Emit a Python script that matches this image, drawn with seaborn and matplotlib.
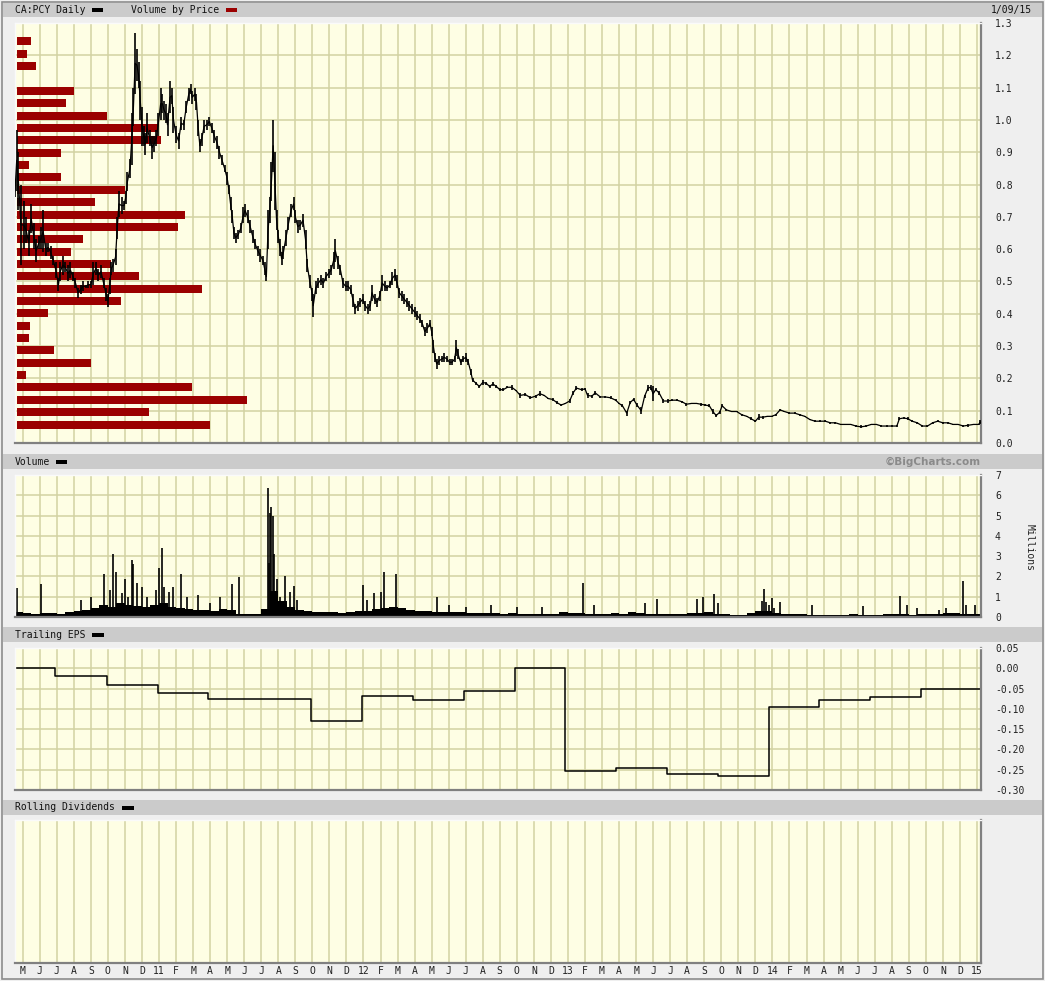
import numpy as np
import pandas as pd
import seaborn as sns
import matplotlib.pyplot as plt
from matplotlib.patches import Rectangle

W, H = 1045, 981

# x axis: months counted from May 2010 (0 = May 1 2010)
month_labels = ['M', 'J', 'J', 'A', 'S', 'O', 'N', 'D',
                '11', 'F', 'M', 'A', 'M', 'J', 'J', 'A', 'S', 'O', 'N', 'D',
                '12', 'F', 'M', 'A', 'M', 'J', 'J', 'A', 'S', 'O', 'N', 'D',
                '13', 'F', 'M', 'A', 'M', 'J', 'J', 'A', 'S', 'O', 'N', 'D',
                '14', 'F', 'M', 'A', 'M', 'J', 'J', 'A', 'S', 'O', 'N', 'D',
                '15']
x_start, x_end = -0.45, 56.24

# daily price, sampled (month, low, high)
price_month = [-0.45, -0.35, -0.25, -0.1, 0.05, 0.2, 0.35, 0.5, 0.65, 0.8, 0.95, 1.1, 1.2, 1.35, 1.5, 1.65, 1.8, 1.95,
               2.1, 2.2, 2.35, 2.5, 2.65, 2.8, 2.95, 3.1, 3.25, 3.4, 3.55, 3.7, 3.85, 4.0, 4.15, 4.3, 4.45, 4.6, 4.75,
               4.9, 5.0, 5.1, 5.2, 5.3, 5.45, 5.55, 5.65, 5.8, 5.95, 6.05, 6.15, 6.3, 6.4, 6.5, 6.6, 6.7, 6.8, 6.9,
               7.0, 7.1, 7.2, 7.3, 7.45, 7.6, 7.7, 7.85, 7.95, 8.1, 8.2, 8.3, 8.4, 8.5, 8.65, 8.75, 8.85, 9.0, 9.15,
               9.3, 9.45, 9.6, 9.75, 9.85, 9.95, 10.1, 10.2, 10.3, 10.4, 10.5, 10.65, 10.8, 10.95, 11.1, 11.25, 11.4,
               11.55, 11.7, 11.85, 12.0, 12.1, 12.2, 12.3, 12.4, 12.5, 12.65, 12.8, 12.95, 13.05, 13.2, 13.35, 13.5,
               13.65, 13.8, 13.95, 14.1, 14.2, 14.3, 14.4, 14.5, 14.6, 14.7, 14.8, 14.9, 15.0, 15.1, 15.2, 15.3,
               15.45, 15.6, 15.75, 15.9, 16.0, 16.15, 16.3, 16.45, 16.6, 16.7, 16.85, 17.0, 17.05, 17.2, 17.35, 17.5,
               17.65, 17.8, 17.95, 18.1, 18.25, 18.35, 18.5, 18.65, 18.8, 18.95, 19.1, 19.25, 19.4, 19.5, 19.65, 19.8,
               19.95, 20.1, 20.25, 20.4, 20.5, 20.65, 20.8, 20.95, 21.1, 21.25, 21.4, 21.55, 21.7, 21.85, 21.95, 22.1,
               22.25, 22.4, 22.55, 22.7, 22.85, 23.0, 23.15, 23.3, 23.45, 23.6, 23.75, 23.9, 24.0, 24.1, 24.2, 24.3,
               24.45, 24.6, 24.75, 24.9, 25.05, 25.2, 25.35, 25.45, 25.55, 25.7, 25.85, 26.0, 26.15, 26.3, 26.4, 26.6,
               26.8, 27.0, 27.2, 27.4, 27.6, 27.8, 28.0, 28.2, 28.45, 28.7, 28.95, 29.2, 29.5, 29.8, 30.1, 30.35,
               30.6, 30.85, 31.1, 31.35, 31.6, 31.85, 32.1, 32.3, 32.5, 32.8, 33.0, 33.15, 33.4, 33.6, 33.9, 34.2,
               34.5, 34.8, 35.0, 35.2, 35.45, 35.65, 35.85, 36.05, 36.3, 36.5, 36.7, 36.85, 37.0, 37.15, 37.35, 37.6,
               37.85, 38.1, 38.4, 38.7, 38.95, 39.25, 39.55, 39.8, 40.05, 40.3, 40.5, 40.7, 40.9, 41.05, 41.3, 41.6,
               41.9, 42.2, 42.5, 42.75, 43.0, 43.2, 43.45, 43.7, 43.95, 44.2, 44.45, 44.7, 45.0, 45.3, 45.6, 45.9,
               46.2, 46.5, 46.8, 47.1, 47.4, 47.7, 48.0, 48.3, 48.6, 48.9, 49.2, 49.5, 49.8, 50.1, 50.4, 50.7, 51.0,
               51.3, 51.45, 51.7, 51.95, 52.2, 52.5, 52.8, 53.1, 53.4, 53.7, 54.0, 54.3, 54.6, 54.9, 55.2, 55.5, 55.8,
               56.1, 56.2]
price_low = [0.76, 0.78, 0.72, 0.55, 0.60, 0.62, 0.58, 0.65, 0.60, 0.56, 0.60, 0.60, 0.59, 0.58, 0.59, 0.57, 0.55, 0.51,
             0.47, 0.50, 0.52, 0.53, 0.50, 0.51, 0.50, 0.48, 0.45, 0.46, 0.47, 0.48, 0.48, 0.48, 0.49, 0.52, 0.50, 0.51,
             0.48, 0.44, 0.42, 0.46, 0.52, 0.53, 0.55, 0.63, 0.70, 0.71, 0.72, 0.74, 0.78, 0.82, 0.86, 0.98, 1.08, 1.12,
             1.10, 1.00, 0.92, 0.92, 0.89, 0.93, 0.92, 0.88, 0.90, 0.92, 0.95, 1.00, 1.02, 1.00, 0.99, 0.95, 1.02, 1.05,
             0.96, 0.93, 0.91, 0.97, 0.97, 1.02, 1.06, 1.08, 1.05, 1.06, 1.03, 0.95, 0.90, 0.92, 0.96, 0.97, 0.98, 0.96,
             0.93, 0.91, 0.88, 0.86, 0.84, 0.80, 0.77, 0.72, 0.68, 0.63, 0.62, 0.63, 0.65, 0.68, 0.70, 0.68, 0.65, 0.62,
             0.60, 0.58, 0.56, 0.55, 0.52, 0.50, 0.60, 0.68, 0.75, 0.84, 0.72, 0.66, 0.62, 0.58, 0.55, 0.57, 0.61, 0.66,
             0.70, 0.72, 0.68, 0.65, 0.66, 0.67, 0.60, 0.53, 0.48, 0.44, 0.39, 0.46, 0.48, 0.49, 0.48, 0.50, 0.51, 0.52,
             0.54, 0.56, 0.54, 0.52, 0.48, 0.47, 0.47, 0.46, 0.42, 0.40, 0.41, 0.42, 0.43, 0.41, 0.40, 0.41, 0.44, 0.43,
             0.42, 0.44, 0.47, 0.47, 0.47, 0.48, 0.49, 0.50, 0.48, 0.45, 0.44, 0.43, 0.42, 0.41, 0.40, 0.39, 0.38, 0.37,
             0.36, 0.33, 0.34, 0.36, 0.33, 0.28, 0.25, 0.23, 0.24, 0.25, 0.25, 0.25, 0.24, 0.24, 0.25, 0.27, 0.26, 0.24,
             0.25, 0.25, 0.24, 0.21, 0.19, 0.18, 0.17, 0.18, 0.18, 0.17, 0.175, 0.17, 0.16, 0.16, 0.17, 0.165, 0.16,
             0.14, 0.145, 0.135, 0.14, 0.145, 0.145, 0.135, 0.13, 0.12, 0.115, 0.12, 0.125, 0.15, 0.165, 0.16, 0.165,
             0.14, 0.14, 0.15, 0.14, 0.14, 0.135, 0.13, 0.12, 0.11, 0.085, 0.12, 0.13, 0.11, 0.09, 0.14, 0.16, 0.165,
             0.13, 0.16, 0.15, 0.125, 0.125, 0.13, 0.13, 0.125, 0.115, 0.12, 0.12, 0.115, 0.115, 0.11, 0.09, 0.08, 0.09,
             0.11, 0.10, 0.095, 0.095, 0.085, 0.08, 0.07, 0.065, 0.07, 0.075, 0.08, 0.08, 0.085, 0.10, 0.095, 0.09, 0.09,
             0.085, 0.08, 0.07, 0.065, 0.065, 0.065, 0.06, 0.06, 0.055, 0.055, 0.055, 0.05, 0.045, 0.05, 0.055, 0.055,
             0.05, 0.05, 0.05, 0.05, 0.07, 0.075, 0.07, 0.065, 0.06, 0.05, 0.05, 0.06, 0.065, 0.06, 0.06, 0.055, 0.055,
             0.05, 0.05, 0.055, 0.055, 0.06]
price_high = [0.80, 0.97, 0.90, 0.80, 0.75, 0.70, 0.66, 0.74, 0.68, 0.63, 0.64, 0.67, 0.72, 0.62, 0.62, 0.61, 0.58, 0.56,
              0.51, 0.56, 0.58, 0.56, 0.55, 0.56, 0.53, 0.51, 0.48, 0.49, 0.50, 0.49, 0.50, 0.50, 0.56, 0.56, 0.54, 0.55,
              0.51, 0.48, 0.46, 0.51, 0.56, 0.57, 0.60, 0.70, 0.78, 0.76, 0.75, 0.78, 0.84, 0.88, 1.02, 1.10, 1.27, 1.22,
              1.18, 1.12, 1.04, 0.98, 0.96, 1.02, 0.97, 0.95, 0.95, 0.97, 1.02, 1.10, 1.08, 1.06, 1.05, 1.02, 1.12, 1.10,
              1.04, 0.98, 0.96, 1.01, 1.00, 1.06, 1.10, 1.11, 1.09, 1.10, 1.08, 1.00, 0.94, 0.96, 1.00, 1.00, 1.01, 0.99,
              0.97, 0.95, 0.92, 0.89, 0.86, 0.84, 0.80, 0.76, 0.72, 0.67, 0.65, 0.66, 0.68, 0.73, 0.74, 0.72, 0.69, 0.66,
              0.63, 0.61, 0.60, 0.58, 0.56, 0.53, 0.72, 0.76, 0.87, 1.00, 0.90, 0.72, 0.66, 0.63, 0.59, 0.61, 0.66, 0.70,
              0.74, 0.76, 0.72, 0.69, 0.69, 0.71, 0.66, 0.57, 0.52, 0.48, 0.46, 0.50, 0.51, 0.52, 0.51, 0.53, 0.54, 0.55,
              0.59, 0.63, 0.58, 0.55, 0.51, 0.50, 0.50, 0.49, 0.46, 0.43, 0.44, 0.45, 0.46, 0.44, 0.43, 0.44, 0.49, 0.46,
              0.45, 0.47, 0.52, 0.50, 0.49, 0.50, 0.53, 0.54, 0.52, 0.48, 0.47, 0.46, 0.45, 0.44, 0.43, 0.42, 0.41, 0.40,
              0.38, 0.36, 0.37, 0.38, 0.36, 0.32, 0.28, 0.26, 0.27, 0.27, 0.28, 0.27, 0.26, 0.26, 0.27, 0.32, 0.29, 0.26,
              0.27, 0.28, 0.26, 0.23, 0.20, 0.19, 0.18, 0.195, 0.19, 0.18, 0.19, 0.18, 0.17, 0.17, 0.175, 0.18, 0.165,
              0.155, 0.155, 0.145, 0.15, 0.16, 0.15, 0.14, 0.14, 0.13, 0.12, 0.125, 0.135, 0.16, 0.175, 0.17, 0.17,
              0.155, 0.15, 0.16, 0.145, 0.145, 0.145, 0.135, 0.125, 0.12, 0.10, 0.13, 0.14, 0.125, 0.11, 0.15, 0.18,
              0.18, 0.175, 0.17, 0.16, 0.135, 0.135, 0.135, 0.135, 0.13, 0.125, 0.125, 0.125, 0.125, 0.12, 0.12, 0.105,
              0.09, 0.10, 0.12, 0.105, 0.10, 0.10, 0.09, 0.085, 0.08, 0.07, 0.09, 0.085, 0.085, 0.085, 0.09, 0.105, 0.10,
              0.095, 0.095, 0.09, 0.085, 0.075, 0.07, 0.07, 0.07, 0.065, 0.065, 0.06, 0.06, 0.06, 0.055, 0.055, 0.055,
              0.06, 0.06, 0.055, 0.055, 0.055, 0.055, 0.08, 0.08, 0.08, 0.07, 0.065, 0.055, 0.055, 0.065, 0.07, 0.065,
              0.065, 0.06, 0.06, 0.055, 0.06, 0.06, 0.06, 0.07]

# volume by price (relative volume per price bin)
vbp_price = [0.057, 0.096, 0.134, 0.172, 0.210, 0.248, 0.287, 0.325, 0.363, 0.401, 0.439, 0.478, 0.516, 0.554,
             0.592, 0.631, 0.669, 0.707, 0.745, 0.784, 0.822, 0.860, 0.898, 0.937, 0.975, 1.013, 1.052, 1.090,
             1.128, 1.166, 1.205, 1.243]
vbp_volume = [193, 132, 230, 175, 9, 74, 37, 12, 13, 31, 104, 185, 122, 94,
              54, 66, 161, 168, 78, 108, 44, 12, 44, 144, 141, 90, 49, 57,
              0, 19, 10, 14]

# daily volume (millions): half-month base level plus the tall days
vol_base = [0.25, 0.2, 0.15, 0.2, 0.2, 0.15, 0.25, 0.3, 0.35, 0.45, 0.6, 0.5, 0.7, 0.6, 0.55, 0.5,
            0.6, 0.7, 0.5, 0.45, 0.4, 0.35, 0.35, 0.3, 0.4, 0.35, 0.15, 0.15, 0.15, 0.4, 1.3, 0.8,
            0.5, 0.35, 0.3, 0.25, 0.25, 0.25, 0.2, 0.25, 0.3, 0.3, 0.4, 0.45, 0.5, 0.45, 0.35, 0.3,
            0.3, 0.25, 0.25, 0.25, 0.25, 0.2, 0.2, 0.2, 0.2, 0.15, 0.2, 0.15, 0.15, 0.15, 0.15, 0.15,
            0.25, 0.2, 0.2, 0.15, 0.15, 0.15, 0.2, 0.15, 0.25, 0.2, 0.15, 0.15, 0.15, 0.15, 0.15, 0.2,
            0.2, 0.25, 0.15, 0.15, 0.1, 0.1, 0.2, 0.3, 0.3, 0.2, 0.15, 0.15, 0.15, 0.1, 0.1, 0.1,
            0.1, 0.1, 0.15, 0.1, 0.1, 0.1, 0.15, 0.15, 0.15, 0.1, 0.15, 0.15, 0.15, 0.2, 0.2, 0.15,
            0.15, 0.15]
vol_spike_month = [-0.35, 1.1, 3.4, 4.0, 4.8, 5.1, 5.3, 5.5, 5.8, 6.0, 6.2, 6.4, 6.5, 6.7, 7.0, 7.3, 7.8, 8.0,
                   8.2, 8.3, 8.6, 8.8, 9.3, 9.65, 10.3, 11.0, 11.6, 12.3, 12.7, 14.05, 14.4, 14.45, 14.5, 14.6,
                   14.7, 14.75, 14.9, 15.1, 15.4, 15.7, 15.9, 16.1, 20.0, 20.2, 20.6, 21.0, 21.2, 21.9, 24.3,
                   25.0, 26.0, 27.5, 29.0, 30.5, 32.9, 33.5, 36.5, 37.2, 39.6, 39.9, 40.6, 40.8, 43.4, 43.5, 43.6,
                   43.8, 44.0, 44.1, 44.45, 46.3, 49.3, 51.5, 51.9, 52.5, 53.8, 54.2, 55.2, 55.35, 55.9]
vol_spike_value = [1.43, 1.64, 0.85, 1.0, 2.1, 1.35, 3.1, 2.2, 1.2, 1.85, 1.0, 2.8, 2.6, 1.7, 1.5, 1.0, 1.35, 2.42,
                   3.42, 1.5, 1.25, 1.5, 2.1, 1.0, 1.1, 0.7, 1.0, 1.65, 1.95, 0.35, 6.35, 2.65, 5.15, 5.4,
                   5.0, 3.1, 1.85, 1.0, 2.0, 1.25, 1.55, 0.85, 1.6, 0.85, 1.2, 1.25, 2.2, 2.1, 1.0,
                   0.6, 0.5, 0.6, 0.5, 0.5, 1.7, 0.6, 0.7, 0.9, 0.9, 1.0, 1.15, 0.68, 0.8, 1.4, 0.75,
                   0.6, 0.93, 0.44, 0.72, 0.6, 0.55, 1.05, 0.6, 0.45, 0.35, 0.44, 1.79, 0.6, 0.6]

# trailing EPS, each value holds from its month to the next
eps_month = [-0.45, 1.9, 4.93, 7.96, 10.9, 16.9, 19.9, 22.9, 25.9, 28.9, 31.85, 34.8, 37.8, 40.8, 43.8, 46.75,
             49.7, 52.7]
eps_value = [0.0, -0.02, -0.04, -0.06, -0.075, -0.13, -0.068, -0.077, -0.055, 0.0, -0.253, -0.245, -0.26,
             -0.265, -0.095, -0.079, -0.07, -0.052]

price_ticks = [0.0, 0.1, 0.2, 0.3, 0.4, 0.5, 0.6, 0.7, 0.8, 0.9, 1.0, 1.1, 1.2, 1.3]
vol_ticks = [0, 1, 2, 3, 4, 5, 6, 7]
eps_ticks = [-0.30, -0.25, -0.20, -0.15, -0.10, -0.05, 0.00, 0.05]

BG = '#efefef'
BAR = '#cbcbcb'
PLOT_BG = '#fefee4'
GRID = '#d2d2a2'
RED = '#9b0000'

sns.set_style('white')
plt.rcParams['font.family'] = ['DejaVu Sans Mono']
plt.rcParams['font.size'] = 7
plt.rcParams['axes.unicode_minus'] = False


def px_rect(left, top, right, bottom):
    return [left / W, 1 - bottom / H, (right - left) / W, (bottom - top) / H]


fig = plt.figure(figsize=(W / 100, H / 100), dpi=100, facecolor=BG)

# outer frame and header bars
fig.add_artist(Rectangle((2 / W, 1 - 979 / H), 1041 / W, 977 / H, transform=fig.transFigure,
                         fill=False, edgecolor='#8c8c8c', lw=1.2))
for top, bottom in [(3, 17), (454, 469), (627, 642), (800, 815)]:
    fig.add_artist(Rectangle((3 / W, 1 - bottom / H), 1039 / W, (bottom - top) / H,
                             transform=fig.transFigure, color=BAR, lw=0))


def header(text, ypx, swatches):
    fig.text(15 / W, 1 - ypx / H, text, ha='left', va='center', fontsize=7, color='#111111')
    for x0, x1, col in swatches:
        fig.add_artist(Rectangle((x0 / W, 1 - (ypx + 2) / H), (x1 - x0) / W, 4 / H,
                                 transform=fig.transFigure, color=col, lw=0))


header('CA:PCY Daily', 10, [(92, 103, 'black')])
fig.text(131 / W, 1 - 10 / H, 'Volume by Price', ha='left', va='center', fontsize=7, color='#111111')
fig.add_artist(Rectangle((226 / W, 1 - 12 / H), 11 / W, 4 / H, transform=fig.transFigure, color=RED, lw=0))
fig.text(1032 / W, 1 - 10 / H, '1/09/15', ha='right', va='center', fontsize=7, color='#111111')
header('Volume', 461.5, [(56, 67, 'black')])
fig.text(981 / W, 1 - 461.5 / H, '\u00a9BigCharts.com', ha='right', va='center', fontsize=7.5,
         fontweight='bold', color='#8a8a8a', family='DejaVu Sans')
header('Trailing EPS', 634.5, [(92, 104, 'black')])
header('Rolling Dividends', 807.5, [(122, 134, 'black')])


def style_panel(ax, yticks, ylim, hgrid=True):
    ax.set_facecolor(PLOT_BG)
    ax.set_xlim(x_start, x_end)
    ax.set_ylim(*ylim)
    ax.set_xticks(range(len(month_labels)))
    ax.set_xticklabels([])
    ax.set_yticks(yticks)
    ax.yaxis.tick_right()
    ax.tick_params(length=0, pad=10, labelsize=7, colors='#222222')
    ax.grid(True, axis='x', color=GRID, lw=1.1)
    if hgrid:
        ax.grid(True, axis='y', color=GRID, lw=1.1)
    ax.set_axisbelow(True)
    for side in ['bottom', 'right']:
        ax.spines[side].set_color('#808080')
        ax.spines[side].set_linewidth(1.6)
    for side in ['top', 'left']:
        ax.spines[side].set_color('#fafafa')
        ax.spines[side].set_linewidth(1.0)
    ax.set_xlabel('')
    ax.set_ylabel('')


# price panel: grid layer, volume-by-price layer, price layer
ax_p = fig.add_axes(px_rect(15, 23, 981, 443))
style_panel(ax_p, price_ticks, (0, 1.3))
ax_p.set_yticklabels([f'{t:.1f}' for t in price_ticks])

ax_vbp = ax_p.twiny()
ax_vbp.barh(vbp_price, vbp_volume, height=0.025, left=0, color=RED, lw=0)
ax_vbp.set_xlim(-2, 964)
ax_vbp.axis('off')

ax_line = ax_vbp.twiny()
ax_line.set_xlim(x_start, x_end)
ax_line.axis('off')
ax_line.vlines(price_month, price_low, price_high, color='black', lw=1.2)
price_df = pd.DataFrame({'month': price_month,
                         'mid': (np.array(price_low) + np.array(price_high)) / 2})
sns.lineplot(data=price_df, x='month', y='mid', ax=ax_line, color='black', lw=0.9,
             estimator=None, sort=False, legend=False)
ax_line.set_ylim(0, 1.3)

# volume panel
ax_v = fig.add_axes(px_rect(15, 475, 981, 617))
style_panel(ax_v, vol_ticks, (0, 7))
ax_v.stairs(vol_base, np.arange(len(vol_base) + 1) * 0.5 - 0.5, fill=True, color='black', lw=0)
ax_v.vlines(vol_spike_month, 0, vol_spike_value, color='black', lw=1.2)
ax_v.set_ylim(0, 7)
ax_v.set_xlim(x_start, x_end)
fig.text(1030 / W, 1 - 548 / H, 'Millions', rotation=270, ha='center', va='center', fontsize=7,
         color='#222222')

# trailing EPS panel
ax_e = fig.add_axes(px_rect(15, 648, 981, 790))
style_panel(ax_e, eps_ticks, (-0.30, 0.05))
ax_e.set_yticklabels([f'{t:.2f}' for t in eps_ticks])
eps_df = pd.DataFrame({'month': eps_month + [x_end], 'eps': eps_value + [eps_value[-1]]})
sns.lineplot(data=eps_df, x='month', y='eps', ax=ax_e, color='black', lw=1.1,
             drawstyle='steps-post', estimator=None, legend=False)
ax_e.set_xlabel('')
ax_e.set_ylabel('')

# rolling dividends panel (empty)
ax_d = fig.add_axes(px_rect(15, 820, 981, 963))
style_panel(ax_d, [], (0, 1), hgrid=False)
ax_d.set_xticklabels(month_labels)
ax_d.tick_params(axis='x', pad=2, labelsize=7)

fig.savefig('out.png', dpi=100, facecolor=BG)
